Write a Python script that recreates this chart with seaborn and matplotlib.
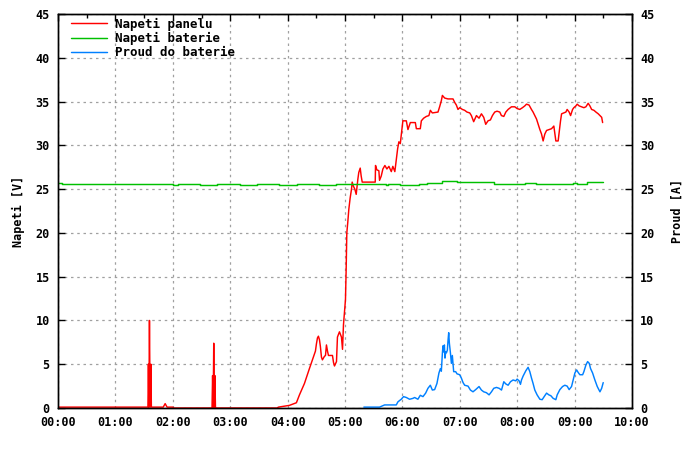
import matplotlib
matplotlib.use("Agg")
import matplotlib.pyplot as plt
import seaborn as sns
import pandas as pd
from matplotlib.ticker import MultipleLocator

# ---- data (time in minutes after 00:00) ----
panel_t = [0, 94, 94.5, 95, 95.6, 96.3, 97.1, 97.6, 110, 111, 112, 113, 114, 120, 121,
           161, 161.6, 162.2, 162.8, 163.4, 164, 164.6, 229,
           230.4, 241.9, 249.2, 252.4, 257.6, 262.8, 266.0, 269.1, 270.1, 271.2, 272.2, 273.3, 274.3, 275.4,
           276.4, 278.5, 279.6, 280.6, 281.7, 282.7, 286.9, 288.0, 289.0, 291.1, 292.1, 294.2, 296.3,
           297.4, 298.4, 300.5, 301.2, 301.9, 302.9, 304.0, 305.4, 306.8, 307.5, 308.9, 310.3, 311.7,
           313.4, 314.4, 315.9, 316.9, 318.0, 331.6, 331.9, 333.3, 335.4, 336.1, 337.9, 339.6, 341.7,
           343.8, 345.9, 348.4, 350.0, 352.1, 353.6, 355.0, 356.3, 357.8, 359.2, 360.5, 364.1, 365.8,
           368.3, 373.5, 374.6, 378.7, 379.8, 382.2, 385.0, 387.7, 389.2, 391.3, 397.2, 398.9, 400.7,
           401.8, 404.2, 407.6, 412.9, 414.7, 416.4, 418.1, 419.9, 422.7, 425.1, 427.5, 430.4, 432.1,
           434.5, 437.4, 440.1, 442.6, 445.0, 447.1, 449.5, 452.0, 454.1, 456.5, 458.9, 461.8, 463.5,
           466.0, 468.1, 470.5, 474.0, 477.5, 479.9, 482.7, 485.5, 487.9, 489.7, 492.4, 494.9, 496.6,
           498.4, 500.2, 501.9, 503.7, 505.4, 507.1, 508.9, 510.7, 513.4, 515.9, 518.3, 519.4, 520.4,
           522.8, 523.9, 525.3, 526.4, 528.8, 530.9, 532.2, 534.3, 535.8, 537.9, 539.2, 541.3, 542.7,
           544.8, 547.3, 549.7, 551.8, 554.2, 556.0, 557.8, 560.2, 562.3, 564.7, 566.5, 568.3, 569.3]
panel_v = [0.1, 0.1, 5.0, 0.1, 10.0, 0.1, 5.0, 0.1, 0.1, 0.3, 0.5, 0.3, 0.1, 0.1, 0.0,
           0.0, 3.7, 0.0, 7.4, 0.0, 3.7, 0.0, 0.0,
           0.1, 0.3, 0.6, 1.5, 2.8, 4.5, 5.5, 6.5, 7.3, 8.0, 8.2, 7.8, 7.0, 5.8,
           5.5, 5.9, 6.0, 7.2, 6.5, 6.0, 6.0, 5.2, 4.8, 5.3, 8.1, 8.7, 8.1,
           6.7, 9.5, 12.4, 15.8, 20.0, 21.2, 22.7, 24.0, 25.0, 25.8, 25.3, 25.0, 24.4,
           26.1, 26.9, 27.4, 26.5, 25.8, 25.8, 27.7, 27.2, 27.1, 26.0, 26.5, 27.3, 27.7,
           27.3, 27.6, 27.0, 27.6, 27.0, 28.4, 29.6, 30.4, 30.2, 31.5, 32.8, 32.8, 31.8,
           32.6, 32.6, 31.9, 31.9, 32.8, 33.1, 33.3, 33.4, 34.0, 33.7, 33.8, 34.4, 35.1,
           35.7, 35.4, 35.3, 35.3, 34.9, 34.6, 34.1, 34.3, 34.1, 34.0, 33.8, 33.7, 33.4,
           32.7, 33.4, 33.1, 33.6, 33.2, 32.4, 32.8, 32.9, 33.4, 33.8, 33.9, 33.8, 33.4,
           33.3, 33.8, 34.1, 34.4, 34.4, 34.2, 34.1, 34.3, 34.5, 34.7, 34.6, 34.1, 33.8,
           33.4, 33.0, 32.4, 31.8, 31.3, 30.5, 31.3, 31.7, 31.8, 31.9, 32.2, 31.3, 30.5,
           30.5, 31.5, 32.8, 33.6, 33.7, 33.8, 34.1, 33.8, 33.4, 34.1, 34.3, 34.5, 34.7,
           34.5, 34.4, 34.3, 34.4, 34.8, 34.5, 34.1, 34.0, 33.8, 33.6, 33.4, 33.2, 32.6]

battery_t = [0, 4, 120, 125, 148, 166, 190, 208, 231, 250, 273, 291, 343, 345, 357, 377,
             386, 401, 417, 425, 456, 488, 500, 538, 542, 553, 570]
battery_v = [25.75, 25.6, 25.45, 25.6, 25.5, 25.6, 25.5, 25.6, 25.5, 25.6, 25.5, 25.6, 25.5,
             25.6, 25.45, 25.55, 25.65, 25.9, 25.85, 25.8, 25.55, 25.65, 25.55, 25.65, 25.55,
             25.8, 25.8]

current_t = [319.7, 336.1, 341.4, 353.6, 355.3, 358.8, 361.2, 364.1, 367.5, 371.0, 372.8, 376.2,
             378.7, 381.5, 384.3, 386.7, 389.2, 391.3, 393.7, 396.1, 398.2, 399.7, 400.7, 401.8,
             402.4, 403.1, 403.9, 404.5, 405.2, 406.0, 407.0, 407.6, 408.4, 409.1, 410.2, 411.2,
             412.2, 413.6, 415.7, 417.1, 419.9, 421.7, 423.4, 425.1, 428.6, 431.1, 433.8, 436.6,
             440.1, 442.6, 445.0, 447.8, 450.6, 453.1, 455.5, 458.3, 461.1, 463.6, 466.0, 468.1,
             470.5, 473.0, 475.7, 478.5, 479.9, 482.0, 483.4, 484.5, 486.2, 489.0, 491.4, 493.2,
             495.0, 496.6, 498.4, 500.8, 503.7, 506.1, 508.2, 510.7, 513.1, 515.2, 517.6, 520.4,
             521.8, 524.6, 527.4, 529.8, 532.2, 534.3, 536.8, 538.5, 540.3, 542.1, 543.8, 545.5,
             548.4, 549.7, 551.8, 553.6, 555.3, 556.7, 558.8, 561.2, 563.7, 566.5, 568.3, 569.9]
current_a = [0.1, 0.1, 0.35, 0.35, 0.7, 1.0, 1.3, 1.2, 1.0, 1.1, 1.2, 1.0,
             1.45, 1.3, 1.7, 2.25, 2.6, 2.05, 2.1, 2.8, 4.0, 4.5, 4.2, 6.25,
             7.1, 6.4, 7.2, 5.7, 6.4, 6.3, 6.6, 7.6, 8.6, 7.4, 6.3, 5.1,
             6.0, 4.15, 4.15, 3.9, 3.8, 3.4, 2.9, 2.6, 2.5, 2.05, 1.85, 2.1,
             2.45, 2.05, 1.85, 1.75, 1.5, 1.85, 2.25, 2.35, 2.25, 2.05, 3.0, 2.75,
             2.6, 3.0, 3.2, 3.1, 3.3, 3.1, 2.7, 3.2, 3.65, 4.25, 4.65, 4.15,
             3.4, 2.8, 2.05, 1.5, 1.0, 0.95, 1.3, 1.7, 1.5, 1.4, 1.1, 0.95,
             1.5, 2.1, 2.45, 2.6, 2.5, 2.1, 2.45, 3.2, 4.0, 4.35, 4.05, 3.8,
             3.8, 4.15, 4.9, 5.3, 5.1, 4.5, 4.0, 3.2, 2.45, 1.85, 2.25, 2.9]

x_ticks = list(range(0, 601, 60))
x_labels = ["00:00", "01:00", "02:00", "03:00", "04:00", "05:00",
            "06:00", "07:00", "08:00", "09:00", "10:00"]
y_ticks = list(range(0, 46, 5))

labels = ["Napeti panelu", "Napeti baterie", "Proud do baterie"]
colors = ["#ff0000", "#00c000", "#0080ff"]

# ---- plotting ----
sns.set_style("white")
plt.rcParams["font.family"] = ["DejaVu Sans Mono"]
plt.rcParams["font.weight"] = "bold"
plt.rcParams["text.color"] = "black"
plt.rcParams["axes.labelcolor"] = "black"
plt.rcParams["xtick.color"] = "black"
plt.rcParams["ytick.color"] = "black"

fig = plt.figure(figsize=(7, 4.5), dpi=100)
ax = fig.add_axes([58 / 700, 42 / 450, 574 / 700, 394 / 450])
ax2 = ax.twinx()

df_p = pd.DataFrame({"t": panel_t, "v": panel_v})
df_b = pd.DataFrame({"t": battery_t, "v": battery_v})
df_c = pd.DataFrame({"t": current_t, "a": current_a})

lw = 1.05
sns.lineplot(data=df_p, x="t", y="v", ax=ax, color=colors[0], lw=lw,
             estimator=None, sort=False, label=labels[0], legend=False)
sns.lineplot(data=df_b, x="t", y="v", ax=ax, color=colors[1], lw=lw,
             estimator=None, sort=False, label=labels[1], legend=False,
             drawstyle="steps-post")
sns.lineplot(data=df_c, x="t", y="a", ax=ax2, color=colors[2], lw=lw,
             estimator=None, sort=False, label=labels[2], legend=False)

for a in (ax, ax2):
    a.set_xlim(0, 600)
    a.set_ylim(0, 45)
    a.set_yticks(y_ticks)
    for s in a.spines.values():
        s.set_color("black")
        s.set_linewidth(1.0)

ax.set_xticks(x_ticks)
ax.set_xticklabels(x_labels)
ax.xaxis.set_minor_locator(MultipleLocator(30))
ax.grid(True, which="major", color="#a0a0a0", linestyle=(0, (2, 3)), linewidth=0.9)
ax.tick_params(axis="both", which="major", direction="in", length=5, width=1,
               labelsize=8.5, colors="black", pad=6, top=True)
ax.tick_params(axis="x", which="minor", direction="in", length=3, width=1, top=True)
ax2.tick_params(axis="y", which="major", direction="in", length=5, width=1,
                labelsize=8.5, colors="black", pad=6)
ax.set_xlabel("")
ax.set_ylabel("Napeti [V]", fontsize=8.5, fontweight="bold", labelpad=7.5, color="black")
ax2.set_ylabel("Proud [A]", fontsize=8.5, fontweight="bold", labelpad=11.5, color="black")
ax2.grid(False)

h1, l1 = ax.get_legend_handles_labels()
h2, l2 = ax2.get_legend_handles_labels()
leg = ax2.legend(h1 + h2, l1 + l2, loc="upper left", frameon=False,
                 prop={"family": "DejaVu Sans Mono", "weight": "bold", "size": 9},
                 handlelength=2.9, handletextpad=0.6, labelspacing=0.1,
                 borderaxespad=0.15, borderpad=0.15, bbox_to_anchor=(0.016, 1.0))
for txt in leg.get_texts():
    txt.set_color("black")

fig.savefig("out.png", dpi=100, facecolor="white")
